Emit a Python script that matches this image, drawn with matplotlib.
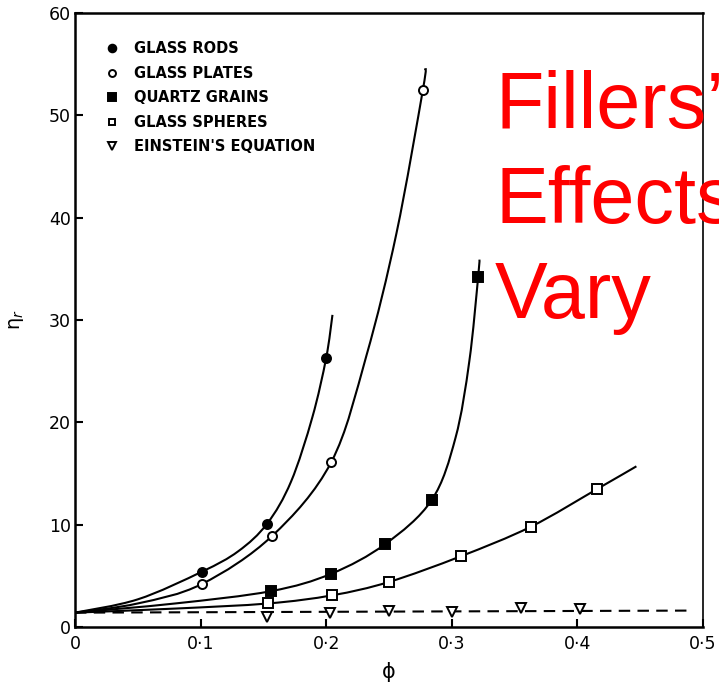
import matplotlib
matplotlib.use('Agg')
import matplotlib.pyplot as plt
from matplotlib.path import Path
from matplotlib.patches import PathPatch
from matplotlib.lines import Line2D

# measured points (volume fraction phi, relative viscosity)
rods_x = [0.101, 0.153, 0.200]
rods_y = [5.4, 10.1, 26.3]
plates_x = [0.101, 0.157, 0.204, 0.277]
plates_y = [4.2, 8.9, 16.1, 52.5]
quartz_x = [0.156, 0.204, 0.247, 0.284, 0.321]
quartz_y = [3.5, 5.2, 8.1, 12.4, 34.2]
spheres_x = [0.154, 0.205, 0.250, 0.307, 0.363, 0.416]
spheres_y = [2.3, 3.1, 4.4, 6.9, 9.8, 13.5]
einstein_x = [0.153, 0.203, 0.250, 0.300, 0.355, 0.402]
einstein_y = [1.0, 1.4, 1.6, 1.5, 1.85, 1.75]

# hand-drawn smooth curves, traced nodes
rods_cx = [0.0, 0.05, 0.101, 0.130, 0.153, 0.172, 0.189, 0.200, 0.205]
rods_cy = [1.4, 2.7, 5.4, 7.4, 10.1, 14.2, 20.5, 26.3, 30.5]
plates_cx = [0.0, 0.05, 0.101, 0.157, 0.204, 0.232, 0.256, 0.277, 0.279]
plates_cy = [1.4, 2.3, 4.2, 8.9, 16.1, 26.5, 38.5, 52.5, 54.6]
quartz_cx = [0.0, 0.08, 0.156, 0.204, 0.247, 0.284, 0.303, 0.314, 0.321, 0.322]
quartz_cy = [1.4, 2.3, 3.5, 5.2, 8.1, 12.4, 18.5, 26.0, 34.2, 35.9]
spheres_cx = [0.0, 0.08, 0.154, 0.205, 0.250, 0.307, 0.363, 0.416, 0.447]
spheres_cy = [1.4, 1.8, 2.3, 3.1, 4.4, 6.9, 9.8, 13.5, 15.7]
einstein_lx = [0.0, 0.487]
einstein_ly = [1.4, 1.6]

x_ticks = [0, 0.1, 0.2, 0.3, 0.4, 0.5]
x_labels = ['0', '0·1', '0·2', '0·3', '0·4', '0·5']
y_ticks = [0, 10, 20, 30, 40, 50, 60]
legend_labels = ['GLASS RODS', 'GLASS PLATES', 'QUARTZ GRAINS',
                 'GLASS SPHERES', "EINSTEIN'S EQUATION"]


def smooth_curve(ax, xs, ys, **kw):
    # Catmull-Rom through the nodes, as cubic Bezier segments
    pts = list(zip(xs, ys))
    verts = [pts[0]]
    codes = [Path.MOVETO]
    n = len(pts)
    for i in range(n - 1):
        p0 = pts[max(i - 1, 0)]
        p1 = pts[i]
        p2 = pts[i + 1]
        p3 = pts[min(i + 2, n - 1)]
        c1 = (p1[0] + (p2[0] - p0[0]) / 6, p1[1] + (p2[1] - p0[1]) / 6)
        c2 = (p2[0] - (p3[0] - p1[0]) / 6, p2[1] - (p3[1] - p1[1]) / 6)
        verts += [c1, c2, p2]
        codes += [Path.CURVE4] * 3
    ax.add_patch(PathPatch(Path(verts, codes), fill=False, **kw))


fig = plt.figure(figsize=(7.19, 6.88), dpi=100)
ax = fig.add_axes([0.1043, 0.0887, 0.8734, 0.8924])

for cx, cy in [(rods_cx, rods_cy), (plates_cx, plates_cy),
               (quartz_cx, quartz_cy), (spheres_cx, spheres_cy)]:
    smooth_curve(ax, cx, cy, edgecolor='black', linewidth=1.5)
ax.plot(einstein_lx, einstein_ly, color='black', linestyle=(0, (5.5, 3.5)),
        linewidth=1.5)

mk = dict(linestyle='none', markeredgecolor='black', markeredgewidth=1.4)
ax.plot(rods_x, rods_y, marker='o', markersize=6.5, markerfacecolor='black', **mk)
ax.plot(plates_x, plates_y, marker='o', markersize=6.5, markerfacecolor='white', **mk)
ax.plot(quartz_x, quartz_y, marker='s', markersize=6.5, markerfacecolor='black', **mk)
ax.plot(spheres_x, spheres_y, marker='s', markersize=6.5, markerfacecolor='white', **mk)
ax.plot(einstein_x, einstein_y, marker='v', markersize=6.5, markerfacecolor='white', **mk)

ax.set_xlim(0, 0.5)
ax.set_ylim(0, 60)
ax.set_xticks(x_ticks)
ax.set_xticklabels(x_labels)
ax.set_yticks(y_ticks)
ax.tick_params(direction='in', length=6, width=1.5, labelsize=12.5)
ax.tick_params(axis='y', pad=3)
ax.tick_params(axis='x', pad=6)
for s in ax.spines.values():
    s.set_linewidth(1.8)
ax.spines['right'].set_linewidth(1.2)

ax.set_xlabel('ϕ', fontsize=15, labelpad=6)
ax.set_ylabel('η$_r$', fontsize=14, labelpad=16)

# legend: markers only
handles = [
    Line2D([], [], marker='o', markersize=5.5, markerfacecolor='black', **mk),
    Line2D([], [], marker='o', markersize=5, markerfacecolor='white', **mk),
    Line2D([], [], marker='s', markersize=5.5, markerfacecolor='black', **mk),
    Line2D([], [], marker='s', markersize=5, markerfacecolor='white', **mk),
    Line2D([], [], marker='v', markersize=5.5, markerfacecolor='white', **mk),
]
ax.legend(handles, legend_labels, loc='upper left', bbox_to_anchor=(0.029, 0.975),
          frameon=False, handlelength=0.8, handletextpad=1.1, labelspacing=0.65,
          prop={'family': 'DejaVu Sans', 'weight': 'bold', 'size': 10.5})

# red overlay caption
for i, line in enumerate(['Fillers’', 'Effects', 'Vary']):
    fig.text(495 / 719, 1 - (128 + 95 * i) / 688, line, color='#ff0000',
             fontsize=57, family='Liberation Sans', va='baseline', ha='left')

fig.savefig('out.png', dpi=100)
